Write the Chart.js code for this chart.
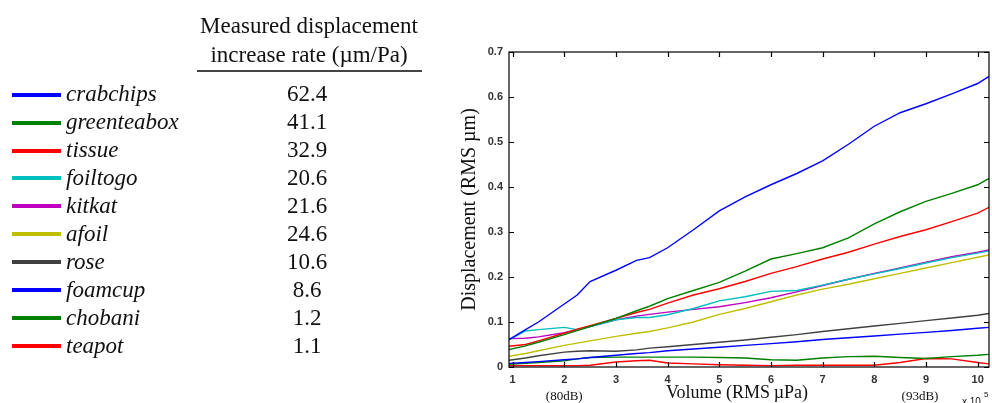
<!DOCTYPE html>
<html>
<head>
<meta charset="utf-8">
<script src="https://cdn.jsdelivr.net/npm/chart.js@4.4.0/dist/chart.umd.min.js"></script>
<style>
  body { margin: 0; background: #fff; }
  #wrap { position: relative; width: 992px; height: 403px; overflow: hidden; }
  #chart { position: absolute; left: 0; top: 0; }
  .t { position: absolute; font-family: "Liberation Serif", "Times New Roman", serif; color: #111; white-space: nowrap; line-height: 23px; font-size: 23px; }
  .title { text-align: center; width: 280px; left: 169px; }
  .name { font-style: italic; left: 66px; }
  .rate { width: 80px; left: 267px; text-align: center; }
  .swatch { position: absolute; left: 12px; width: 49px; height: 4px; }
  .rule { position: absolute; left: 197px; width: 225px; top: 70px; height: 2px; background: #444; }
</style>
</head>
<body>
<div id="wrap">
  <canvas id="chart" width="992" height="403"></canvas>
</div>
<script>
// Datos
const materials = ['crabchips', 'greenteabox', 'tissue', 'foiltogo', 'kitkat', 'afoil', 'rose', 'foamcup', 'chobani', 'teapot'];
const rates = ['62.4', '41.1', '32.9', '20.6', '21.6', '24.6', '10.6', '8.6', '1.2', '1.1'];
const lineColors = ['#0000ff', '#008000', '#ff0000', '#00bfbf', '#bf00bf', '#bfbf00', '#404040', '#0000ff', '#008000', '#ff0000'];

// Volumen (x 10^5 RMS µPa)
const volume = [0.93, 1.25, 1.5, 2.0, 2.25, 2.5, 3.0, 3.4, 3.65, 4.0, 4.5, 5.0, 5.5, 6.0, 6.5, 7.0, 7.5, 8.0, 8.5, 9.0, 9.5, 10.0, 10.22];

const crabchips   = [0.061, 0.083, 0.100, 0.140, 0.160, 0.190, 0.215, 0.237, 0.243, 0.265, 0.305, 0.347, 0.378, 0.405, 0.430, 0.458, 0.495, 0.535, 0.565, 0.585, 0.607, 0.630, 0.646];
const greenteabox = [0.039, 0.047, 0.055, 0.072, 0.081, 0.090, 0.108, 0.125, 0.135, 0.152, 0.170, 0.188, 0.213, 0.240, 0.252, 0.265, 0.287, 0.318, 0.345, 0.368, 0.386, 0.405, 0.419];
const tissue      = [0.046, 0.050, 0.058, 0.075, 0.084, 0.092, 0.108, 0.121, 0.128, 0.142, 0.160, 0.174, 0.190, 0.208, 0.223, 0.240, 0.255, 0.273, 0.290, 0.305, 0.323, 0.342, 0.355];
const foiltogo    = [0.060, 0.080, 0.083, 0.088, 0.083, 0.090, 0.105, 0.110, 0.110, 0.116, 0.130, 0.147, 0.156, 0.168, 0.170, 0.182, 0.195, 0.207, 0.219, 0.231, 0.243, 0.253, 0.258];
const kitkat      = [0.063, 0.064, 0.067, 0.076, 0.083, 0.090, 0.105, 0.113, 0.117, 0.122, 0.128, 0.134, 0.143, 0.154, 0.167, 0.181, 0.195, 0.208, 0.220, 0.233, 0.245, 0.255, 0.260];
const afoil       = [0.024, 0.030, 0.036, 0.048, 0.053, 0.058, 0.068, 0.075, 0.079, 0.087, 0.100, 0.117, 0.130, 0.145, 0.160, 0.173, 0.184, 0.196, 0.208, 0.220, 0.232, 0.244, 0.249];
const rose        = [0.015, 0.020, 0.025, 0.033, 0.035, 0.036, 0.035, 0.038, 0.042, 0.045, 0.050, 0.055, 0.060, 0.066, 0.072, 0.079, 0.085, 0.091, 0.097, 0.103, 0.109, 0.115, 0.119];
const foamcup     = [0.008, 0.010, 0.012, 0.016, 0.018, 0.021, 0.026, 0.030, 0.032, 0.036, 0.040, 0.044, 0.048, 0.052, 0.056, 0.061, 0.065, 0.069, 0.073, 0.077, 0.081, 0.086, 0.088];
const chobani     = [0.006, 0.008, 0.010, 0.014, 0.018, 0.021, 0.022, 0.022, 0.022, 0.022, 0.022, 0.021, 0.020, 0.016, 0.015, 0.020, 0.023, 0.024, 0.021, 0.019, 0.023, 0.026, 0.028];
const teapot      = [0.003, 0.003, 0.003, 0.003, 0.003, 0.004, 0.011, 0.014, 0.015, 0.009, 0.007, 0.005, 0.004, 0.003, 0.004, 0.004, 0.004, 0.004, 0.010, 0.019, 0.018, 0.010, 0.007];

const seriesValues = [crabchips, greenteabox, tissue, foiltogo, kitkat, afoil, rose, foamcup, chobani, teapot];
const xTicks = [1, 2, 3, 4, 5, 6, 7, 8, 9, 10];
const yTicks = [0, 0.1, 0.2, 0.3, 0.4, 0.5, 0.6, 0.7];

// Tabla de la izquierda
function buildTable() {
    const wrap = document.getElementById('wrap');
    const asc = 0.8375 * 23;
    const add = (cls, text, top) => {
        const d = document.createElement('div');
        d.className = 't ' + cls;
        d.textContent = text;
        d.style.top = top + 'px';
        wrap.appendChild(d);
        return d;
    };
    add('title', 'Measured displacement', 33.5 - asc);
    add('title', 'increase rate (\u00b5m/Pa)', 62 - asc);
    const rule = document.createElement('div');
    rule.className = 'rule';
    wrap.appendChild(rule);

    materials.forEach((name, i) => {
        const base = 101.7 + 27.9 * i;
        const sw = document.createElement('div');
        sw.className = 'swatch';
        sw.style.top = (base - 9) + 'px';
        sw.style.background = lineColors[i];
        wrap.appendChild(sw);
        add('name', name, base - asc);
        add('rate', rates[i], base - asc);
    });
}

// Caja con marcas hacia dentro y etiquetas extra
const boxPlugin = {
    id: 'boxPlugin',
    afterDatasetsDraw(chart) {
        const { ctx, chartArea: a, scales } = chart;
        const xs = scales.x, ys = scales.y;
        ctx.save();
        ctx.strokeStyle = '#000';
        ctx.lineWidth = 1.2;
        ctx.strokeRect(a.left, a.top, a.right - a.left, a.bottom - a.top);
        ctx.beginPath();
        xTicks.forEach(v => {
            const px = Math.round(xs.getPixelForValue(v)) + 0.5;
            ctx.moveTo(px, a.bottom); ctx.lineTo(px, a.bottom - 5);
            ctx.moveTo(px, a.top); ctx.lineTo(px, a.top + 5);
        });
        yTicks.forEach(v => {
            const py = Math.round(ys.getPixelForValue(v)) + 0.5;
            ctx.moveTo(a.left, py); ctx.lineTo(a.left + 5, py);
            ctx.moveTo(a.right, py); ctx.lineTo(a.right - 5, py);
        });
        ctx.stroke();

        ctx.fillStyle = '#111';
        ctx.font = '18px "Liberation Serif", serif';
        ctx.textAlign = 'center';
        ctx.textBaseline = 'alphabetic';
        ctx.fillText('Volume (RMS\u2009\u00b5Pa)', 737, 398);

        ctx.font = '13px "Liberation Serif", serif';
        ctx.fillText('(80dB)', xs.getPixelForValue(2), 400);
        ctx.fillText('(93dB)', xs.getPixelForValue(9) - 6, 400);

        ctx.font = '10px "Liberation Sans", sans-serif';
        ctx.textAlign = 'left';
        ctx.fillText('x 10', 962, 405);
        ctx.font = '8px "Liberation Sans", sans-serif';
        ctx.fillText('5', 984, 397);

        ctx.save();
        ctx.translate(470, (a.top + a.bottom) / 2);
        ctx.rotate(-Math.PI / 2);
        ctx.font = '20px "Liberation Serif", serif';
        ctx.textAlign = 'center';
        ctx.textBaseline = 'middle';
        ctx.fillText('Displacement (RMS \u00b5m)', 0, 0);
        ctx.restore();
        ctx.restore();
    }
};

function initializeChart() {
    const ctx = document.getElementById('chart').getContext('2d');
    new Chart(ctx, {
        type: 'line',
        data: {
            labels: volume,
            datasets: materials.map((name, i) => ({
                label: name,
                data: volume.map((x, j) => ({ x: x, y: seriesValues[i][j] })),
                borderColor: lineColors[i],
                borderWidth: 1.4,
                pointRadius: 0,
                tension: 0,
                fill: false
            }))
        },
        options: {
            responsive: false,
            animation: false,
            devicePixelRatio: 1,
            layout: { padding: { left: 469, top: 52, right: 3, bottom: 0 } },
            plugins: { legend: { display: false }, tooltip: { enabled: false } },
            scales: {
                x: {
                    type: 'linear',
                    min: 0.93,
                    max: 10.22,
                    afterBuildTicks: s => { s.ticks = xTicks.map(v => ({ value: v })); },
                    afterFit: s => { s.height = 36; },
                    grid: { display: false, drawTicks: false },
                    border: { display: false },
                    ticks: {
                        padding: 6,
                        color: '#333',
                        font: { family: '"Liberation Sans", Arial, sans-serif', size: 11, weight: 'bold' },
                        maxRotation: 0,
                        autoSkip: false
                    }
                },
                y: {
                    min: 0,
                    max: 0.7,
                    afterBuildTicks: s => { s.ticks = yTicks.map(v => ({ value: v })); },
                    afterFit: s => { s.width = 40; },
                    grid: { display: false, drawTicks: false },
                    border: { display: false },
                    ticks: {
                        padding: 6,
                        color: '#333',
                        font: { family: '"Liberation Sans", Arial, sans-serif', size: 11, weight: 'bold' },
                        callback: v => v === 0 ? '0' : v.toFixed(1)
                    }
                }
            }
        },
        plugins: [boxPlugin]
    });
}

document.addEventListener('DOMContentLoaded', () => {
    buildTable();
    initializeChart();
});
</script>
</body>
</html>
